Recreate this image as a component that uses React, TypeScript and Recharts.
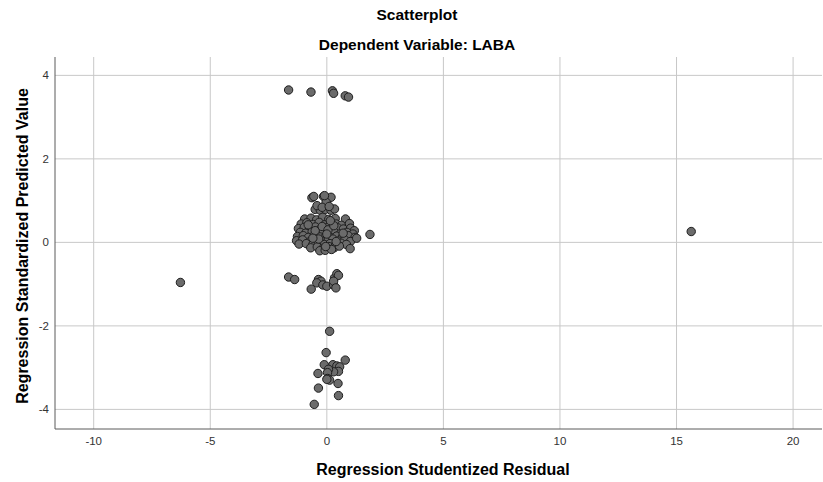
import React from 'react';
import {
  ScatterChart,
  Scatter,
  XAxis,
  YAxis,
  ReferenceLine,
} from 'recharts';

// [studentized residual, standardized predicted value]
const topGroup: number[][] = [
  [-1.64, 3.65], [-0.68, 3.6], [0.24, 3.63], [0.29, 3.57], [0.79, 3.51], [0.93, 3.48],
];

const upperBand: number[][] = [
  [-0.64, 1.07], [-0.56, 1.1], [-0.14, 1.1], [0.18, 1.08], [-0.03, 0.96], [-0.1, 1.12],
  [-0.5, 0.79], [-0.28, 0.77], [-0.07, 0.79], [0.18, 0.77], [0.33, 0.8],
  [-0.42, 0.88], [-0.2, 0.84], [0.1, 0.86],
];

const mainCluster: number[][] = [
  [-0.95, 0.56], [-0.68, 0.58], [-0.44, 0.54], [-0.18, 0.6], [0.08, 0.55], [0.36, 0.57], [0.8, 0.56],
  [-1.1, 0.44], [-0.86, 0.47], [-0.58, 0.43], [-0.33, 0.48], [-0.1, 0.42], [0.17, 0.46], [0.41, 0.44], [0.62, 0.41], [0.97, 0.45],
  [-1.22, 0.33], [-0.97, 0.36], [-0.74, 0.31], [-0.49, 0.37], [-0.26, 0.33], [0.02, 0.36], [0.21, 0.3], [0.46, 0.35], [0.71, 0.32], [1.02, 0.34], [1.18, 0.28],
  [-1.14, 0.24], [-0.91, 0.22], [-0.63, 0.26], [-0.41, 0.21], [-0.16, 0.27], [0.11, 0.22], [0.31, 0.25], [0.57, 0.2], [0.86, 0.24], [1.12, 0.2],
  [-1.26, 0.14], [-1.01, 0.16], [-0.79, 0.12], [-0.54, 0.17], [-0.29, 0.13], [-0.04, 0.16], [0.19, 0.11], [0.42, 0.15], [0.66, 0.12], [0.92, 0.16], [1.21, 0.12],
  [-1.3, 0.04], [-1.04, 0.06], [-0.71, 0.03], [-0.46, 0.07], [-0.21, 0.02], [0.06, 0.05], [0.26, 0.08], [0.51, 0.03], [0.77, 0.06], [1.01, 0.02], [1.28, 0.1],
  [-1.19, -0.04], [-0.88, -0.03], [-0.61, -0.06], [-0.36, -0.02], [-0.11, -0.05], [0.14, -0.03], [0.36, -0.07], [0.61, -0.02], [0.84, -0.05],
  [-0.69, -0.13], [-0.41, -0.11], [-0.16, -0.14], [0.09, -0.1], [0.31, -0.13], [0.54, -0.09], [1.0, -0.15],
  [-0.3, -0.2], [-0.07, -0.19], [0.2, -0.17],
  [-0.5, 0.28], [-0.2, 0.38], [0.05, 0.3], [0.3, 0.4], [-0.35, 0.08], [0.0, 0.2], [0.4, 0.02],
  [-0.6, 0.1], [0.15, 0.52], [-0.8, 0.42], [0.7, 0.22], [-0.05, -0.1],
  [1.85, 0.19],
];

const lowerGroup: number[][] = [
  [-1.64, -0.83], [-1.38, -0.89], [-0.67, -1.12], [-0.36, -0.89], [-0.25, -0.93], [-0.43, -0.97],
  [-0.17, -1.02], [0.0, -1.05], [0.29, -1.02], [0.33, -0.85], [0.43, -0.75], [0.5, -0.79],
  [0.29, -0.93], [0.39, -1.09],
];

const bottomGroup: number[][] = [
  [0.12, -2.13], [-0.03, -2.64], [0.79, -2.82], [-0.11, -2.93], [0.26, -2.93], [0.43, -2.96],
  [0.55, -2.98], [0.5, -3.09], [0.29, -3.1], [0.07, -3.04], [0.03, -3.12], [0.03, -3.26],
  [0.12, -3.3], [-0.38, -3.14], [0.48, -3.38], [-0.36, -3.49], [0.5, -3.67], [-0.54, -3.88],
  [0.0, -3.28],
];

const outliers: number[][] = [
  [15.63, 0.26], [-6.28, -0.96],
];

const xTicks = [-10, -5, 0, 5, 10, 15, 20];
const yTicks = [-4, -2, 0, 2, 4];

const points = [...topGroup, ...upperBand, ...mainCluster, ...lowerGroup, ...bottomGroup, ...outliers]
  .map(([x, y]) => ({ x, y }));

const FONT = 'Arial, "Liberation Sans", sans-serif';
const GRID = '#c8c8c8';

const Dot = (props: any) => (
  <circle cx={props.cx} cy={props.cy} r={4.2} fill="#6b6b6b" stroke="#1e1e1e" strokeWidth={1} />
);

const App: React.FC = () => {
  return (
    <div style={{ position: 'absolute', left: 0, top: 0, width: 823, height: 482, background: '#fff', fontFamily: FONT }}>
      <div style={{ position: 'absolute', left: 0, width: 834, top: 6, textAlign: 'center', fontSize: 15.5, fontWeight: 'bold', color: '#000' }}>
        Scatterplot
      </div>
      <div style={{ position: 'absolute', left: 0, width: 834, top: 36, textAlign: 'center', fontSize: 15.5, fontWeight: 'bold', color: '#000' }}>
        Dependent Variable: LABA
      </div>
      <ScatterChart
        width={823}
        height={482}
        margin={{ top: 57, right: 1, bottom: 0, left: 0 }}
        style={{ position: 'absolute', left: 0, top: 0 }}
      >
        <XAxis
          type="number"
          dataKey="x"
          domain={[-11.66, 21.24]}
          ticks={xTicks}
          height={53}
          tickLine={false}
          axisLine={{ stroke: '#5a5a5a', strokeWidth: 1 }}
          tick={{ fontSize: 11.5, fill: '#333', fontFamily: FONT }}
          tickMargin={2}
          label={{
            content: () => (
              <text x={443} y={475} textAnchor="middle" fontSize={16} fontWeight="bold" fontFamily={FONT} fill="#000">
                Regression Studentized Residual
              </text>
            ),
          }}
        />
        <YAxis
          type="number"
          dataKey="y"
          domain={[-4.47, 4.44]}
          ticks={yTicks}
          width={55}
          tickLine={false}
          axisLine={{ stroke: '#5a5a5a', strokeWidth: 1 }}
          tick={{ fontSize: 11.5, fill: '#333', fontFamily: FONT }}
          tickMargin={0}
          label={{
            content: () => (
              <text
                x={0}
                y={0}
                transform="translate(28, 246) rotate(-90)"
                textAnchor="middle"
                fontSize={16}
                fontWeight="bold"
                fontFamily={FONT}
                fill="#000"
              >
                Regression Standardized Predicted Value
              </text>
            ),
          }}
        />
        {xTicks.map((t) => (
          <ReferenceLine key={`vx${t}`} x={t} stroke={GRID} strokeWidth={1} />
        ))}
        {yTicks.map((t) => (
          <ReferenceLine key={`hy${t}`} y={t} stroke={GRID} strokeWidth={1} />
        ))}
        <Scatter data={points} shape={Dot} isAnimationActive={false} />
      </ScatterChart>
    </div>
  );
};

export default App;
